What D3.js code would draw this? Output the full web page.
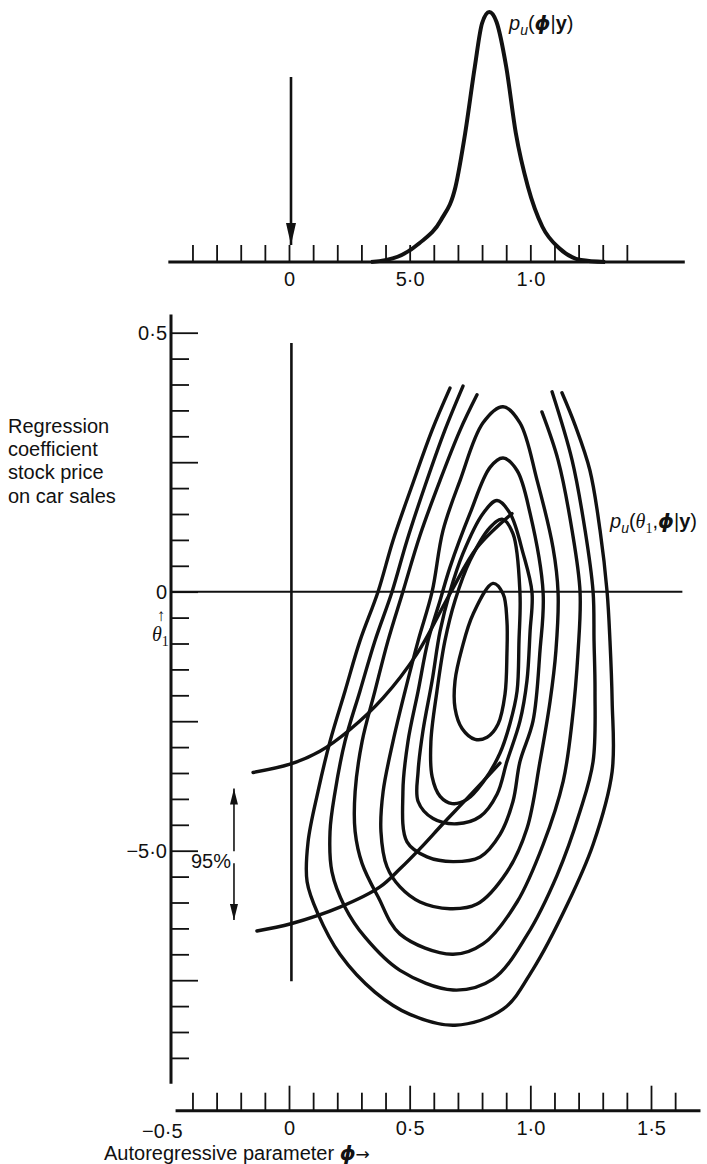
<!DOCTYPE html>
<html>
<head>
<meta charset="utf-8">
<script src="https://cdn.jsdelivr.net/npm/d3@7"></script>
<style>
  html, body { margin: 0; padding: 0; background: #fff; }
  svg { display: block; }
  text { font-family: "Liberation Sans", Arial, Helvetica, sans-serif; fill: #111; }
</style>
</head>
<body>
<div id="chart"></div>
<script>
// ---- data ------------------------------------------------------------

// marginal posterior of phi (relative height, top panel)
const densityPhi = [0.34, 0.45, 0.54, 0.63, 0.69, 0.73, 0.77, 0.80, 0.83, 0.86, 0.90, 0.94, 0.99, 1.05, 1.12, 1.21, 1.31];
const densityVal = [0.0, 0.021, 0.075, 0.168, 0.301, 0.515, 0.781, 0.955, 1.0, 0.96, 0.781, 0.515, 0.301, 0.141, 0.055, 0.008, 0.0];

// joint posterior contours, [phi, theta1] — closed ones, innermost first
const contour1 = [[0.845, 0.016], [0.763, -0.043], [0.717, -0.109], [0.688, -0.172], [0.688, -0.225], [0.717, -0.264],
  [0.771, -0.285], [0.821, -0.281], [0.866, -0.256], [0.895, -0.198], [0.903, -0.120], [0.903, -0.056], [0.887, -0.004]];
const contour2 = [[0.883, 0.140], [0.833, 0.124], [0.750, 0.060], [0.688, -0.017], [0.646, -0.095], [0.613, -0.192],
  [0.588, -0.289], [0.593, -0.357], [0.626, -0.395], [0.676, -0.409], [0.738, -0.401], [0.804, -0.368], [0.874, -0.312],
  [0.916, -0.254], [0.945, -0.192], [0.953, -0.095], [0.957, -0.002], [0.928, 0.112]];
const contour3 = [[0.862, 0.176], [0.804, 0.151], [0.721, 0.074], [0.667, 0.0], [0.626, -0.076], [0.593, -0.172],
  [0.555, -0.269], [0.535, -0.347], [0.535, -0.405], [0.597, -0.438], [0.696, -0.448], [0.792, -0.434], [0.862, -0.391],
  [0.903, -0.328], [0.957, -0.250], [0.986, -0.172], [0.999, -0.076], [1.007, -0.002], [0.970, 0.074], [0.916, 0.151]];
const contour4 = [[0.887, 0.258], [0.833, 0.240], [0.750, 0.151], [0.667, 0.047], [0.626, -0.017], [0.576, -0.095],
  [0.535, -0.192], [0.493, -0.289], [0.472, -0.386], [0.489, -0.483], [0.572, -0.512], [0.680, -0.521], [0.792, -0.512],
  [0.874, -0.469], [0.928, -0.405], [0.957, -0.328], [1.011, -0.250], [1.040, -0.114], [1.053, -0.002], [0.999, 0.151],
  [0.945, 0.234]];
const contour5 = [[0.887, 0.357], [0.804, 0.326], [0.709, 0.215], [0.638, 0.118], [0.593, 0.0], [0.535, -0.095],
  [0.481, -0.192], [0.431, -0.289], [0.390, -0.386], [0.381, -0.463], [0.406, -0.531], [0.460, -0.570], [0.543, -0.599],
  [0.667, -0.612], [0.779, -0.603], [0.903, -0.541], [0.986, -0.457], [1.040, -0.328], [1.082, -0.211], [1.106, -0.114],
  [1.115, -0.002], [1.094, 0.085], [1.028, 0.215], [0.957, 0.326]];

// outer contours run off the top of the figure
const contour6 = [[0.779, 0.380], [0.709, 0.312], [0.626, 0.215], [0.543, 0.109], [0.472, 0.0], [0.410, -0.095],
  [0.356, -0.192], [0.303, -0.289], [0.274, -0.386], [0.274, -0.463], [0.303, -0.525], [0.369, -0.589], [0.460, -0.661],
  [0.676, -0.700], [0.804, -0.680], [0.945, -0.599], [1.053, -0.488], [1.136, -0.366], [1.173, -0.250], [1.198, -0.114],
  [1.206, 0.0], [1.173, 0.118], [1.115, 0.254], [1.048, 0.347]];
const contour7 = [[0.721, 0.397], [0.646, 0.312], [0.564, 0.205], [0.489, 0.099], [0.427, 0.0], [0.356, -0.095],
  [0.294, -0.192], [0.232, -0.289], [0.191, -0.386], [0.170, -0.463], [0.178, -0.541], [0.232, -0.609], [0.315, -0.667],
  [0.460, -0.731], [0.680, -0.769], [0.845, -0.748], [0.986, -0.663], [1.111, -0.547], [1.206, -0.424], [1.260, -0.328],
  [1.268, -0.192], [1.264, -0.095], [1.260, 0.0], [1.227, 0.118], [1.173, 0.254], [1.090, 0.386]];
const contour8 = [[0.667, 0.393], [0.593, 0.312], [0.510, 0.205], [0.431, 0.099], [0.369, 0.0], [0.294, -0.095],
  [0.232, -0.192], [0.170, -0.289], [0.120, -0.386], [0.079, -0.483], [0.075, -0.560], [0.120, -0.622], [0.211, -0.700],
  [0.356, -0.773], [0.501, -0.816], [0.688, -0.837], [0.887, -0.806], [1.011, -0.729], [1.152, -0.605], [1.260, -0.488],
  [1.339, -0.347], [1.339, -0.211], [1.330, -0.095], [1.318, 0.0], [1.289, 0.118], [1.247, 0.234], [1.185, 0.322],
  [1.131, 0.384]];

// the two long arcs (95% limits of theta1 given phi)
const limitUpper = [[-0.149, -0.349], [0.004, -0.333], [0.128, -0.308], [0.253, -0.266], [0.390, -0.205], [0.530, -0.120],
  [0.667, -0.004], [0.779, 0.085], [0.924, 0.151]];
const limitLower = [[-0.133, -0.655], [0.008, -0.641], [0.211, -0.609], [0.377, -0.570], [0.460, -0.535], [0.543, -0.496],
  [0.638, -0.448], [0.738, -0.399], [0.874, -0.331]];

// 95% interval marked on the left, theta1 from / to
const interval95 = [-0.38, -0.634];

// ticks and labels (labels kept as printed)
const phiTicksTop = d3.range(-4, 15).map(i => i / 10);
const phiTicksBottom = d3.range(-4, 17).map(i => i / 10);
const thetaTicks = d3.range(10, -19, -1).map(i => i / 20);
const topLabels = new Map([[0, '0'], [5, '5·0'], [10, '1·0']]);
const bottomLabels = new Map([[0, '0'], [5, '0·5'], [10, '1·0'], [15, '1·5']]);
const thetaLabels = new Map([[10, '0·5'], [0, '0'], [-10, '−5·0']]);
const yLabelLines = ['Regression', 'coefficient', 'stock price', 'on car sales'];

// ---- layout ------------------------------------------------------------
const W = 707, H = 1164;
const x = d3.scaleLinear().domain([0, 1.5]).range([289, 651]);
const y = d3.scaleLinear().domain([0.5, -0.5]).range([332.7, 850.7]);
const yTop = d3.scaleLinear().domain([0, 1]).range([262, 12]);

const svg = d3.select('#chart').append('svg')
  .attr('width', W).attr('height', H)
  .attr('viewBox', [0, 0, W, H]);

const ink = '#111';

// arrow heads: a big one for the top panel, a small one for the 95% bar
const defs = svg.append('defs');
[['headBig', 22, 10], ['headSmall', 16, 8]].forEach(([id, len, wid]) => {
  defs.append('marker')
    .attr('id', id)
    .attr('viewBox', '0 0 10 10')
    .attr('refX', 10).attr('refY', 5)
    .attr('markerWidth', len).attr('markerHeight', wid)
    .attr('markerUnits', 'userSpaceOnUse')
    .attr('orient', 'auto')
    .attr('preserveAspectRatio', 'none')
    .append('path').attr('d', 'M0,0 L10,5 L0,10 Z').attr('fill', ink);
});

// small helper for the math labels
function mathText(g, px, py, size, parts) {
  const t = g.append('text').attr('x', px).attr('y', py).attr('font-size', size);
  parts.forEach(p => {
    const s = t.append('tspan').text(p.t);
    if (p.i) s.attr('font-style', 'italic');
    if (p.b) s.attr('font-weight', 'bold');
    if (p.f) s.attr('font-family', p.f);
    if (p.sub) s.attr('font-size', size * 0.7).attr('dy', size * 0.25);
    if (p.up) s.attr('dy', -size * 0.25);
  });
  return t;
}

// ---- top panel: p_u(phi | y) ---------------------------------------------
const topPanel = svg.append('g');

topPanel.append('line')
  .attr('x1', x(-0.5)).attr('x2', x(1.64))
  .attr('y1', yTop(0)).attr('y2', yTop(0))
  .attr('stroke', ink).attr('stroke-width', 3);

const topAxis = d3.axisBottom(x)
  .tickValues(phiTicksTop)
  .tickSize(-17)
  .tickPadding(10)
  .tickFormat(d => topLabels.get(Math.round(d * 10)) || '');

topPanel.append('g')
  .attr('transform', `translate(0,${yTop(0)})`)
  .call(topAxis)
  .call(g => g.select('.domain').remove())
  .call(g => g.selectAll('line').attr('stroke', ink).attr('stroke-width', 1.8))
  .call(g => g.selectAll('text').attr('font-size', 20).attr('fill', ink))
  .attr('font-family', null).attr('font-size', null);

topPanel.append('path')
  .datum(d3.zip(densityPhi, densityVal))
  .attr('fill', 'none')
  .attr('stroke', ink).attr('stroke-width', 4)
  .attr('stroke-linejoin', 'round')
  .attr('d', d3.line().x(d => x(d[0])).y(d => yTop(d[1])).curve(d3.curveMonotoneX));

// arrow pointing at phi = 0
topPanel.append('line')
  .attr('x1', x(0) + 2).attr('x2', x(0) + 2)
  .attr('y1', 77).attr('y2', yTop(0) - 17)
  .attr('stroke', ink).attr('stroke-width', 2.6)
  .attr('marker-end', 'url(#headBig)');

mathText(topPanel, 509, 30, 20, [
  { t: 'p', i: true }, { t: 'u', i: true, sub: true }, { t: '(', up: true },
  { t: 'ϕ', i: true, b: true, f: 'DejaVu Sans' }, { t: '|' }, { t: 'y', b: true }, { t: ')' }
]);

// ---- bottom panel: joint contours ----------------------------------------
const main = svg.append('g');

// theta1 axis
main.append('line')
  .attr('x1', 171).attr('x2', 171)
  .attr('y1', y(0.535)).attr('y2', y(-0.95))
  .attr('stroke', ink).attr('stroke-width', 3);

const leftAxis = d3.axisLeft(y)
  .tickValues(thetaTicks)
  .tickSize(-18)
  .tickPadding(4)
  .tickFormat(d => thetaLabels.get(Math.round(d * 20)) || '');

main.append('g')
  .attr('transform', 'translate(171,0)')
  .call(leftAxis)
  .call(g => g.select('.domain').remove())
  .call(g => g.selectAll('line').attr('stroke', ink).attr('stroke-width', 1.8))
  .call(g => g.selectAll('.tick').filter(d => Math.round(d * 20) % 5 === 0)
    .select('line').attr('x2', 27))
  .call(g => g.selectAll('text').attr('font-size', 20).attr('fill', ink))
  .attr('font-family', null).attr('font-size', null);

// phi axis
const yBottom = 1110.7;
main.append('line')
  .attr('x1', x(-0.47)).attr('x2', x(1.705))
  .attr('y1', yBottom).attr('y2', yBottom)
  .attr('stroke', ink).attr('stroke-width', 3);

const bottomAxis = d3.axisBottom(x)
  .tickValues(phiTicksBottom)
  .tickSize(-18)
  .tickPadding(10)
  .tickFormat(d => bottomLabels.get(Math.round(d * 10)) || '');

main.append('g')
  .attr('transform', `translate(0,${yBottom})`)
  .call(bottomAxis)
  .call(g => g.select('.domain').remove())
  .call(g => g.selectAll('line').attr('stroke', ink).attr('stroke-width', 1.8))
  .call(g => g.selectAll('.tick').filter(d => Math.round(d * 10) % 5 === 0)
    .select('line').attr('y2', -25))
  .call(g => g.selectAll('text').attr('font-size', 20).attr('fill', ink))
  .attr('font-family', null).attr('font-size', null);

// -0.5 is printed without a tick
main.append('text')
  .attr('x', x(-0.5) - 6).attr('y', yBottom + 27)
  .attr('text-anchor', 'middle').attr('font-size', 20)
  .text('−0·5');

// reference lines theta1 = 0 and phi = 0
main.append('line')
  .attr('x1', x(-0.49)).attr('x2', x(1.63))
  .attr('y1', y(0)).attr('y2', y(0))
  .attr('stroke', ink).attr('stroke-width', 2);
main.append('line')
  .attr('x1', x(0.01)).attr('x2', x(0.01))
  .attr('y1', y(0.48)).attr('y2', y(-0.752))
  .attr('stroke', ink).attr('stroke-width', 2.6);

const path = d3.line().x(d => x(d[0])).y(d => y(d[1]));

main.append('g')
  .selectAll('path')
  .data([contour1, contour2, contour3, contour4, contour5])
  .join('path')
  .attr('fill', 'none')
  .attr('stroke', ink).attr('stroke-width', 3.4)
  .attr('d', d => path.curve(d3.curveCatmullRomClosed.alpha(0.5))(d));

main.append('g')
  .selectAll('path')
  .data([contour6, contour7, contour8, limitUpper, limitLower])
  .join('path')
  .attr('fill', 'none')
  .attr('stroke', ink).attr('stroke-width', 3.4)
  .attr('stroke-linecap', 'round')
  .attr('d', d => path.curve(d3.curveCatmullRom.alpha(0.5))(d));

// 95% marker
const xi = x(-0.228);
const yMid = y((interval95[0] + interval95[1]) / 2);
main.append('line')
  .attr('x1', xi).attr('x2', xi)
  .attr('y1', yMid - 3).attr('y2', y(interval95[0]))
  .attr('stroke', ink).attr('stroke-width', 1.6)
  .attr('marker-end', 'url(#headSmall)');
main.append('line')
  .attr('x1', xi).attr('x2', xi)
  .attr('y1', yMid + 9).attr('y2', y(interval95[1]))
  .attr('stroke', ink).attr('stroke-width', 1.6)
  .attr('marker-end', 'url(#headSmall)');
main.append('text')
  .attr('x', xi - 3).attr('y', yMid + 14)
  .attr('text-anchor', 'end').attr('font-size', 20)
  .text('95%');

// y label block
main.append('g')
  .selectAll('text')
  .data(yLabelLines)
  .join('text')
  .attr('x', 8)
  .attr('y', (d, i) => 433 + i * 23.2)
  .attr('font-size', 20)
  .text(d => d);

main.append('text')
  .attr('x', 161).attr('y', 621)
  .attr('text-anchor', 'middle').attr('font-size', 17)
  .attr('font-family', 'DejaVu Sans')
  .text('↑');
mathText(main, 152, 641, 20, [
  { t: 'θ', i: true, f: '"Liberation Serif", serif' }, { t: '1', sub: true, f: '"Liberation Serif", serif' }
]);

mathText(main, 610, 528, 20, [
  { t: 'p', i: true }, { t: 'u', i: true, sub: true }, { t: '(', up: true },
  { t: 'θ', i: true, f: '"Liberation Serif", serif' }, { t: '1', sub: true, f: '"Liberation Serif", serif' },
  { t: ',', up: true }, { t: 'ϕ', i: true, b: true, f: 'DejaVu Sans' }, { t: '|' }, { t: 'y', b: true }, { t: ')' }
]);

// x label
const xl = main.append('text')
  .attr('x', 104).attr('y', 1160)
  .attr('font-size', 20);
xl.append('tspan').text('Autoregressive parameter ');
xl.append('tspan').attr('font-style', 'italic').attr('font-weight', 'bold')
  .attr('font-family', 'DejaVu Sans').text('ϕ');
xl.append('tspan').attr('font-family', 'DejaVu Sans').attr('font-size', 17).text('→');
</script>
</body>
</html>
